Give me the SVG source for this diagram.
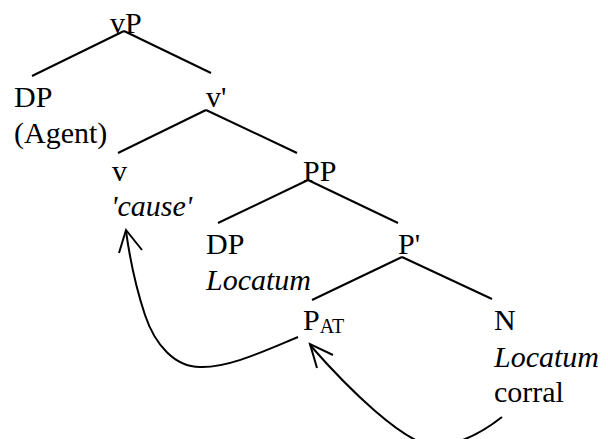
<svg xmlns="http://www.w3.org/2000/svg" width="608" height="439" viewBox="0 0 608 439">
<style>
text{font-family:"Liberation Serif","Times New Roman",serif;font-size:30px;fill:#000}
.it{font-style:italic}
.sub{font-size:20px}
.ln{stroke:#000;stroke-width:2;fill:none;stroke-linecap:butt}
</style>
<rect width="608" height="439" fill="#fff"/>
<g id="connectors">
<line class="ln" x1="32" y1="76" x2="124" y2="31"/>
<line class="ln" x1="124" y1="31" x2="211" y2="73"/>
<line class="ln" x1="118" y1="153" x2="206" y2="110"/>
<line class="ln" x1="206" y1="110" x2="297" y2="153"/>
<line class="ln" x1="218" y1="223" x2="308" y2="180"/>
<line class="ln" x1="308" y1="180" x2="398" y2="223"/>
<line class="ln" x1="312" y1="300" x2="402" y2="257"/>
<line class="ln" x1="402" y1="257" x2="492" y2="299"/>
<path class="ln" d="M298,337 C262,352 228,368 200,367 C175,367 155,345 145,315 C138,294 130,260 126,231"/>
<polyline class="ln" points="119,253 126,230 142,250"/>
<path class="ln" d="M502,417 C488,428 465,444 436,446 C405,446 345,385 310,345"/>
<polyline class="ln" points="317,368 310,344 333,355"/>
</g>
<g id="vP"><text x="110" y="33">vP</text></g>
<g id="DP-agent"><text x="14" y="107">DP</text><text x="14" y="143">(Agent)</text></g>
<g id="v-bar"><text x="206" y="107">v'</text></g>
<g id="v"><text x="112" y="181">v</text><text class="it" x="111" y="216">'cause'</text></g>
<g id="PP"><text x="303" y="181">PP</text></g>
<g id="DP-locatum"><text x="206" y="254">DP</text><text class="it" x="206" y="290">Locatum</text></g>
<g id="P-bar"><text x="398" y="254">P'</text></g>
<g id="P-AT"><text x="303" y="330">P<tspan class="sub" dy="3">AT</tspan></text></g>
<g id="N"><text x="494" y="330">N</text><text class="it" x="494" y="367">Locatum</text><text x="494" y="402">corral</text></g>
</svg>
